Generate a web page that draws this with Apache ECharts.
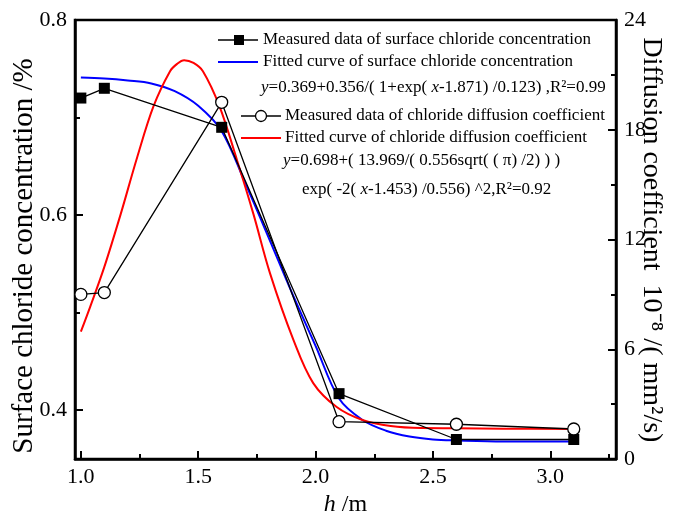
<!DOCTYPE html>
<html>
<head>
<meta charset="utf-8">
<script src="https://cdn.jsdelivr.net/npm/echarts@6/dist/echarts.min.js"></script>
<style>html,body{margin:0;padding:0;background:#fff;}#chart{width:686px;height:518px;}</style>
</head>
<body>
<div id="chart"></div>
<script>
// ---- data ----
const xMeasured = [1.0, 1.1, 1.6, 2.1, 2.6, 3.1];
const chlorideMeasured = [0.72, 0.73, 0.69, 0.417, 0.37, 0.37];
const diffusionMeasured = [9.0, 9.1, 19.5, 2.04, 1.9, 1.64];

const chlorideFitX = [1.0, 1.1, 1.2, 1.3, 1.4, 1.5, 1.6, 1.7, 1.8, 1.9, 2.0, 2.1, 2.2, 2.3, 2.4, 2.5, 2.6, 2.8, 3.1];
const chlorideFitY = [0.741, 0.740, 0.738, 0.735, 0.727, 0.712, 0.686, 0.633, 0.577, 0.52, 0.466, 0.412, 0.390, 0.379, 0.373, 0.370, 0.369, 0.368, 0.368];

const diffusionFitX = [1.0, 1.04, 1.1, 1.17, 1.24, 1.31, 1.38, 1.41, 1.44, 1.48, 1.52, 1.59, 1.665, 1.735, 1.806, 1.906, 1.99, 2.09, 2.2, 2.32, 2.45, 2.6, 2.8, 3.1];
const diffusionFitY = [6.96, 8.33, 10.5, 13.4, 16.5, 19.3, 21.2, 21.6, 21.8, 21.65, 21.2, 19.3, 16.35, 13.4, 10.15, 6.5, 4.15, 2.84, 2.13, 1.80, 1.69, 1.68, 1.66, 1.64];

const xTickValues = [1.0, 1.5, 2.0, 2.5, 3.0];
const xMinorTicks = [1.25, 1.75, 2.25, 2.75, 3.25];
const leftTickValues = [0.4, 0.6, 0.8];
const leftMinorTicks = [0.5, 0.7];

const leftTitle = 'Surface chloride concentration /%';
const rightTitle = 'Diffusion coefficient  10⁻⁸ /( mm²/s)';
const legendLabels = [
  'Measured data of surface chloride concentration',
  'Fitted curve of surface chloride concentration',
  'Measured data of chloride diffusion coefficient',
  'Fitted curve of chloride diffusion coefficient'
];
const formula1 = '{i|y}=0.369+0.356/( 1+exp( {i|x}-1.871) /0.123) ,R²=0.99';
const formula2a = '{i|y}=0.698+( 13.969/( 0.556sqrt( ( π) /2) ) )';
const formula2b = 'exp( -2( {i|x}-1.453) /0.556) ^2,R²=0.92';

// ---- chart ----
const FONT = '"Liberation Serif","Times New Roman",serif';
const zip = (a, b) => a.map((v, i) => [v, b[i]]);
const black = '#000';
const chart = echarts.init(document.getElementById('chart'));

const lbl = (txt, x, y) => ({
  type: 'text', x: x, y: y,
  style: { text: txt, fill: black, font: '17px ' + FONT, verticalAlign: 'middle', align: 'left',
    rich: { i: { fontStyle: 'italic', fontSize: 17, fontFamily: FONT, fill: black } } }
});

const option = {
  animation: false,
  backgroundColor: '#fff',
  grid: { left: 75, right: 70, top: 20, bottom: 59, outerBoundsMode: 'none', containLabel: false,
    show: true, borderColor: black, borderWidth: 2.5, backgroundColor: 'transparent' },
  xAxis: [
    {
      type: 'value', min: 0.975, max: 3.28, position: 'bottom',
      axisLine: { show: true, onZero: false, lineStyle: { color: black, width: 2.5 } },
      axisTick: { show: true, inside: true, length: 8, customValues: xTickValues, lineStyle: { color: black, width: 2 } },
      axisLabel: { show: true, customValues: xTickValues, formatter: v => Number(v).toFixed(1), color: black, fontSize: 22, fontFamily: FONT, margin: 7 },
      splitLine: { show: false },
      name: '{i|h} /m', nameLocation: 'middle', nameGap: 30,
      nameTextStyle: { color: black, fontSize: 24, fontFamily: FONT, rich: { i: { fontStyle: 'italic', fontSize: 24, fontFamily: FONT, color: black } } }
    },
    {
      type: 'value', min: 0.975, max: 3.28, position: 'bottom',
      axisLine: { show: false },
      axisTick: { show: true, inside: true, length: 5, customValues: xMinorTicks, lineStyle: { color: black, width: 2 } },
      axisLabel: { show: false },
      splitLine: { show: false }
    }
  ],
  yAxis: [
    {
      type: 'value', min: 0.35, max: 0.8, position: 'left',
      axisLine: { show: true, onZero: false, lineStyle: { color: black, width: 2.5 } },
      axisTick: { show: true, inside: true, length: 8, customValues: leftTickValues, lineStyle: { color: black, width: 2 } },
      axisLabel: { show: true, customValues: leftTickValues, formatter: v => Number(v).toFixed(1), color: black, fontSize: 22, fontFamily: FONT, margin: 8 },
      splitLine: { show: false }
    },
    {
      type: 'value', min: 0, max: 24, interval: 6, position: 'right',
      axisLine: { show: true, onZero: false, lineStyle: { color: black, width: 2.5 } },
      axisTick: { show: true, inside: true, length: 8, lineStyle: { color: black, width: 2 } },
      minorTick: { show: true, splitNumber: 2, length: 5, lineStyle: { color: black, width: 2 } },
      axisLabel: { show: true, color: black, fontSize: 22, fontFamily: FONT, margin: 8 },
      splitLine: { show: false }
    },
    {
      type: 'value', min: 0.35, max: 0.8, position: 'left',
      axisLine: { show: false },
      axisTick: { show: true, inside: true, length: 5, customValues: leftMinorTicks, lineStyle: { color: black, width: 2 } },
      axisLabel: { show: false },
      splitLine: { show: false }
    }
  ],
  series: [
    {
      name: legendLabels[1], type: 'line', xAxisIndex: 0, yAxisIndex: 0,
      data: zip(chlorideFitX, chlorideFitY), smooth: 0.35, showSymbol: false,
      lineStyle: { color: '#0000ff', width: 2 }, z: 2
    },
    {
      name: legendLabels[3], type: 'line', xAxisIndex: 0, yAxisIndex: 1,
      data: zip(diffusionFitX, diffusionFitY), smooth: 0.35, showSymbol: false,
      lineStyle: { color: '#ff0000', width: 2 }, z: 2
    },
    {
      name: legendLabels[0], type: 'line', xAxisIndex: 0, yAxisIndex: 0,
      data: zip(xMeasured, chlorideMeasured), symbol: 'rect', symbolSize: 11,
      itemStyle: { color: black }, lineStyle: { color: black, width: 1.3 }, z: 3
    },
    {
      name: legendLabels[2], type: 'line', xAxisIndex: 0, yAxisIndex: 1,
      data: zip(xMeasured, diffusionMeasured), symbol: 'circle', symbolSize: 12,
      itemStyle: { color: '#fff', borderColor: black, borderWidth: 1.3 }, lineStyle: { color: black, width: 1.3 }, z: 3
    }
  ],
  graphic: [
    // axis titles
    { type: 'text', x: 24, y: 256, rotation: Math.PI / 2,
      style: { text: leftTitle, fill: black, font: '29px ' + FONT, align: 'center', verticalAlign: 'middle' } },
    { type: 'text', x: 651, y: 240, rotation: -Math.PI / 2,
      style: { text: rightTitle, fill: black, font: '28px ' + FONT, align: 'center', verticalAlign: 'middle' } },
    // legend entry 1
    { type: 'line', shape: { x1: 218, y1: 40, x2: 258, y2: 40 }, style: { stroke: black, lineWidth: 1.3 } },
    { type: 'rect', shape: { x: 234, y: 35, width: 10, height: 10 }, style: { fill: black } },
    lbl(legendLabels[0], 263, 40),
    // legend entry 2
    { type: 'line', shape: { x1: 218, y1: 62, x2: 258, y2: 62 }, style: { stroke: '#0000ff', lineWidth: 2 } },
    lbl(legendLabels[1], 263, 62),
    lbl(formula1, 261, 88),
    // legend entry 3
    { type: 'line', shape: { x1: 241, y1: 116, x2: 281, y2: 116 }, style: { stroke: black, lineWidth: 1.3 } },
    { type: 'circle', shape: { cx: 261, cy: 116, r: 5.5 }, style: { fill: '#fff', stroke: black, lineWidth: 1.3 } },
    lbl(legendLabels[2], 285, 116),
    // legend entry 4
    { type: 'line', shape: { x1: 241, y1: 138, x2: 281, y2: 138 }, style: { stroke: '#ff0000', lineWidth: 2 } },
    lbl(legendLabels[3], 285, 138),
    lbl(formula2a, 283, 161),
    lbl(formula2b, 302, 190)
  ]
};
chart.setOption(option);
</script>
</body>
</html>
